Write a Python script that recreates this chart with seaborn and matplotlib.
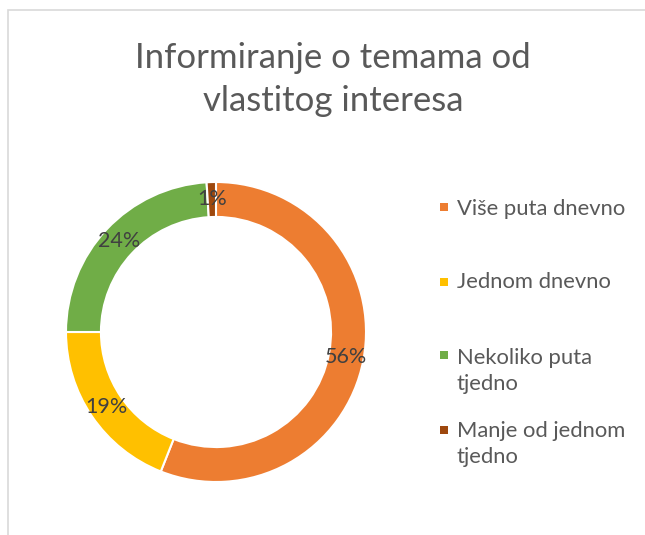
import matplotlib
matplotlib.use("Agg")
import matplotlib.pyplot as plt
from matplotlib.patches import Rectangle
import seaborn as sns

# ---- data ----
categories = ["Više puta dnevno", "Jednom dnevno", "Nekoliko puta tjedno", "Manje od jednom tjedno"]
legend_labels = ["Više puta dnevno", "Jednom dnevno", "Nekoliko puta\ntjedno", "Manje od jednom\ntjedno"]
shares = [56, 19, 24, 1]
colors = ["#ED7D31", "#FFC000", "#70AD47", "#9E480E"]
title = "Informiranje o temama od\nvlastitog interesa"

sns.set_theme(style="white")
plt.rcParams["font.family"] = ["Lato", "DejaVu Sans"]

W, H = 645, 535
fig = plt.figure(figsize=(W / 100, H / 100), dpi=100)
fig.patch.set_facecolor("white")

# chart frame (only left and top visible in the crop)
fig.add_artist(Rectangle((7.5 / W, -0.1), 1.2, 1 - 9.5 / H + 0.1, transform=fig.transFigure,
                         facecolor="none", edgecolor="#D9D9D9", lw=1.2))

# donut
cx, cy, r = 216, 332, 150
ax = fig.add_axes([(cx - r) / W, (H - cy - r) / H, 2 * r / W, 2 * r / H])
palette = sns.color_palette(colors)
wedges, texts, autotexts = ax.pie(
    shares, colors=palette, startangle=90, counterclock=False, radius=1,
    wedgeprops=dict(width=0.233, edgecolor="white", linewidth=1.5),
    autopct="%.0f%%", pctdistance=0.885,
    textprops=dict(color="#404040", fontsize=15.5),
)
ax.set_xlim(-1, 1)
ax.set_ylim(-1, 1)
ax.set_aspect("equal")
ax.axis("off")

# title (va=baseline aligns the last line)
fig.text(333 / W, 1 - 111 / H, title, ha="center", va="baseline", fontsize=25,
         color="#595959", linespacing=1.41)

# legend
square_y = [206.5, 281.5, 355, 430]
last_baseline = [215, 288, 390, 463]
for lab, col, sy, by in zip(legend_labels, colors, square_y, last_baseline):
    fig.add_artist(Rectangle((439.5 / W, 1 - (sy + 4) / H), 8 / W, 8 / H, transform=fig.transFigure,
                             facecolor=col, edgecolor="none"))
    fig.text(457 / W, 1 - by / H, lab, ha="left", va="baseline", fontsize=15.8,
             color="#595959", linespacing=1.38)

fig.savefig("out.png", dpi=100, facecolor="white")
